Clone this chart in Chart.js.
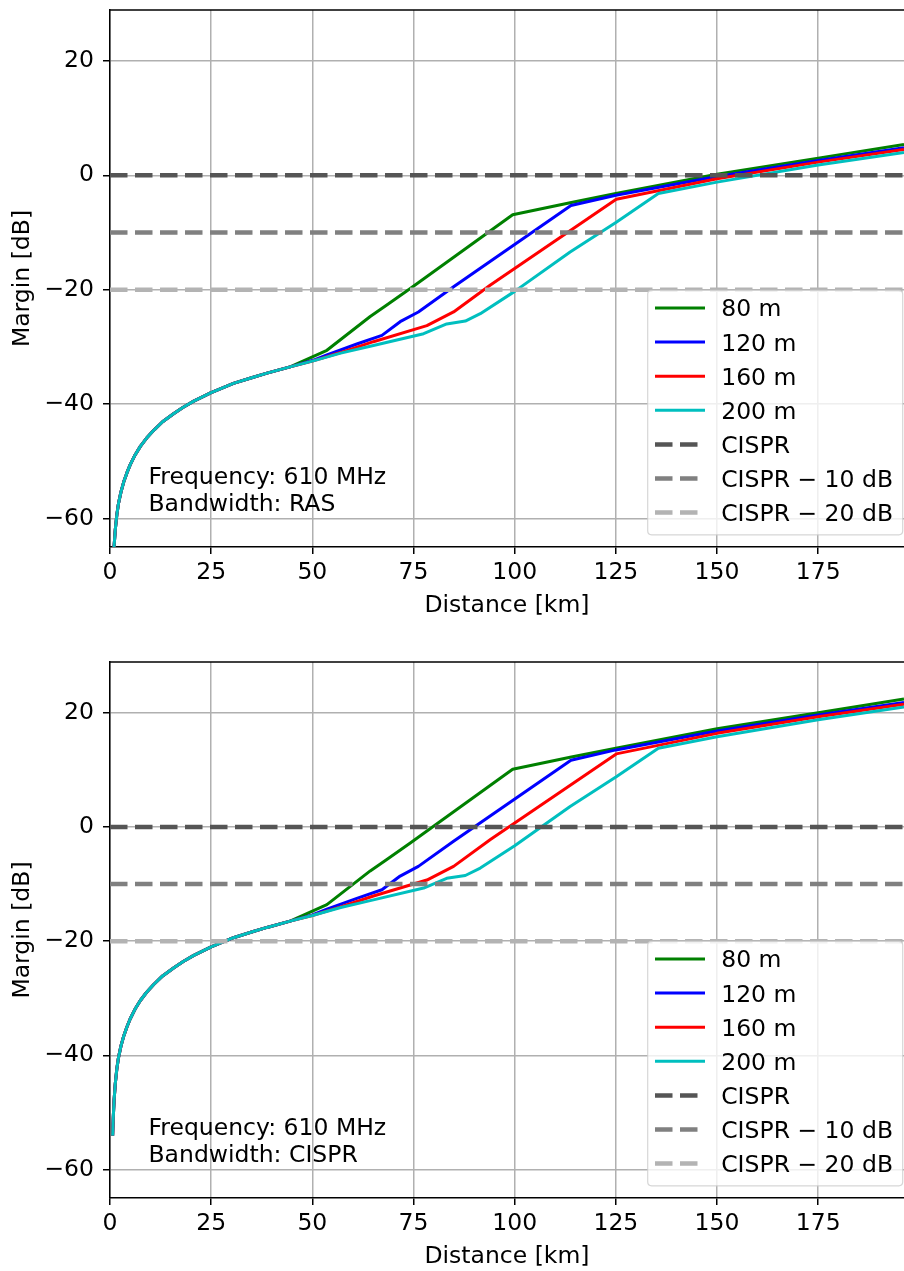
<!DOCTYPE html>
<html><head><meta charset="utf-8">
<script src="https://cdn.jsdelivr.net/npm/chart.js@4"></script>
<style>
html,body{margin:0;padding:0;background:#fff;width:904px;height:1271px;overflow:hidden}
canvas{position:absolute;left:0}
#c1{top:0}
#c2{top:652px}
</style></head><body>
<canvas id="c1" width="904" height="620" style="width:904px;height:620px"></canvas>
<canvas id="c2" width="904" height="619" style="width:904px;height:619px"></canvas>
<script>
// ---------- data ----------
const xTicks = [0, 25, 50, 75, 100, 125, 150, 175];
const yTicks = [-60, -40, -20, 0, 20];
const xRange = [0, 196.2];
const yRange = [-65, 28.9];

const seriesLabels = ['80 m', '120 m', '160 m', '200 m'];
const seriesColors = ['#008000', '#0000ff', '#ff0000', '#00bfbf'];

const limitLevels = [0, -10, -20];
const limitLabels = ['CISPR', 'CISPR \u2212 10 dB', 'CISPR \u2212 20 dB'];
const limitColors = ['#555555', '#808080', '#b3b3b3'];

// shared near-field part (all heights coincide)
const distCommon  = [0.65, 0.8, 1.0, 1.3, 1.7, 2.1, 2.7, 3.4, 4.2, 5.0, 6.2, 7.5, 9.0, 10.8, 13, 15.7, 18, 20.7, 25, 30.5, 35, 38.8, 44.5];
const rasCommon   = [-71.1, -68.0, -65.0, -62.0, -59.3, -57.4, -55.4, -53.6, -52.0, -50.6, -48.9, -47.4, -46.0, -44.6, -43.1, -41.7, -40.6, -39.5, -38.0, -36.4, -35.4, -34.6, -33.5];
const cisprCommon = [-54.1, -51.0, -48.0, -45.0, -42.3, -40.4, -38.4, -36.6, -35.0, -33.6, -31.9, -30.4, -29.0, -27.6, -26.1, -24.7, -23.6, -22.5, -21.0, -19.4, -18.4, -17.6, -16.5];

// 80 m
const dist80  = [53.6, 64.3, 68.4, 74.2, 99.5, 113.7, 125, 150, 175, 196.2];
const ras80   = [-30.6, -24.7, -22.7, -19.8, -6.9, -4.8, -3.2, 0.2, 3.0, 5.4];
const cispr80 = [-13.6, -7.7, -5.7, -2.8, 10.1, 12.2, 13.8, 17.2, 20.0, 22.4];
// 120 m
const dist120  = [50, 53.6, 61, 67.2, 71.7, 76.2, 84.9, 113.9, 125, 150, 175, 196.2];
const ras120   = [-32.4, -31.4, -29.5, -28.0, -25.6, -23.9, -19.5, -5.3, -3.5, -0.2, 2.6, 4.8];
const cispr120 = [-15.4, -14.4, -12.5, -11.0, -8.6, -6.9, -2.5, 11.7, 13.5, 16.8, 19.6, 21.8];
// 160 m
const dist160  = [50, 57, 65.1, 78.3, 84.9, 94, 125.1, 150, 175, 196.2];
const ras160   = [-32.5, -31.0, -29.1, -26.3, -23.9, -19.2, -4.2, -0.6, 2.3, 4.5];
const cispr160 = [-15.5, -14.0, -12.1, -9.3, -6.9, -2.2, 12.8, 16.4, 19.3, 21.5];
// 200 m
const dist200  = [50, 57, 64.3, 77.5, 83.2, 87.8, 91.5, 100, 113.7, 125.1, 135.5, 150, 175, 196.2];
const ras200   = [-32.5, -31.1, -29.9, -27.7, -26.0, -25.5, -24.2, -20.3, -13.4, -8.2, -3.2, -1.2, 1.8, 4.0];
const cispr200 = [-15.5, -14.1, -12.9, -10.7, -9.0, -8.5, -7.2, -3.3, 3.6, 8.8, 13.8, 15.8, 18.8, 21.0];

const panels = [
  {canvas: 'c1', bw: 'RAS',   common: rasCommon,   tails: [[dist80, ras80], [dist120, ras120], [dist160, ras160], [dist200, ras200]]},
  {canvas: 'c2', bw: 'CISPR', common: cisprCommon, tails: [[dist80, cispr80], [dist120, cispr120], [dist160, cispr160], [dist200, cispr200]]}
];

// ---------- drawing ----------
const FONT = 'DejaVu Sans';
const FS = 23.5;
Chart.defaults.font.family = FONT;
Chart.defaults.font.size = FS;
Chart.defaults.color = '#000';

function pts(xs, ys) { return xs.map((x, i) => ({x: x, y: ys[i]})); }
const fmt = v => (v < 0 ? '\u2212' + Math.abs(v) : String(v));

const DASH = [17.5, 7.5];

const decorPlugin = {
  id: 'decor',
  afterDraw(chart) {
    const {ctx, chartArea: a} = chart;
    const o = chart.options.plugins.decor;
    ctx.save();
    // top spine
    ctx.strokeStyle = '#000'; ctx.lineWidth = 1.5;
    ctx.beginPath(); ctx.moveTo(a.left - 0.75, a.top); ctx.lineTo(a.right, a.top); ctx.stroke();
    // annotation text
    ctx.font = FS + 'px "' + FONT + '"';
    ctx.fillStyle = '#000'; ctx.textBaseline = 'alphabetic'; ctx.textAlign = 'left';
    ctx.fillText('Frequency: 610 MHz', a.left + 38.5, a.bottom - 63);
    ctx.fillText('Bandwidth: ' + o.bw, a.left + 38.5, a.bottom - 36.3);
    // legend
    const boxW = 255, boxH = 244.5;
    const x0 = a.right - 1.3 - boxW, y0 = a.bottom - 12.2 - boxH;
    const r = 4;
    ctx.beginPath();
    ctx.moveTo(x0 + r, y0);
    ctx.lineTo(x0 + boxW - r, y0); ctx.quadraticCurveTo(x0 + boxW, y0, x0 + boxW, y0 + r);
    ctx.lineTo(x0 + boxW, y0 + boxH - r); ctx.quadraticCurveTo(x0 + boxW, y0 + boxH, x0 + boxW - r, y0 + boxH);
    ctx.lineTo(x0 + r, y0 + boxH); ctx.quadraticCurveTo(x0, y0 + boxH, x0, y0 + boxH - r);
    ctx.lineTo(x0, y0 + r); ctx.quadraticCurveTo(x0, y0, x0 + r, y0);
    ctx.closePath();
    ctx.fillStyle = 'rgba(255,255,255,0.8)'; ctx.fill();
    ctx.strokeStyle = 'rgba(204,204,204,0.8)'; ctx.lineWidth = 1.2; ctx.stroke();
    chart.data.datasets.forEach((ds, i) => {
      const cy = y0 + 17.7 + i * 34.1;
      ctx.beginPath();
      ctx.strokeStyle = ds.borderColor; ctx.lineWidth = ds.borderWidth;
      ctx.setLineDash(ds.borderDash || []);
      ctx.lineCap = 'butt';
      ctx.moveTo(x0 + 7.3, cy); ctx.lineTo(x0 + 57.3, cy); ctx.stroke();
      ctx.setLineDash([]);
      ctx.fillStyle = '#000';
      ctx.fillText(ds.label, x0 + 73.5, cy + 8.4);
    });
    ctx.restore();
  }
};

panels.forEach(p => {
  const datasets = [];
  p.tails.forEach((t, i) => {
    datasets.push({
      label: seriesLabels[i],
      data: pts(distCommon.concat(t[0]), p.common.concat(t[1])),
      borderColor: seriesColors[i], backgroundColor: seriesColors[i],
      borderWidth: 3, pointRadius: 0, tension: 0, fill: false,
      borderJoinStyle: 'round', order: 7 - i
    });
  });
  limitLevels.forEach((lv, j) => {
    datasets.push({
      label: limitLabels[j],
      data: pts(xRange, [lv, lv]),
      borderColor: limitColors[j], backgroundColor: limitColors[j],
      borderWidth: 4.5, borderDash: DASH, pointRadius: 0, fill: false,
      order: 3 - j
    });
  });
  new Chart(document.getElementById(p.canvas), {
    type: 'line',
    data: {datasets: datasets},
    plugins: [decorPlugin],
    options: {
      responsive: false, animation: false, devicePixelRatio: 1,
      layout: {padding: {top: 10, right: 0, left: 0, bottom: 0}},
      plugins: {legend: {display: false}, tooltip: {enabled: false}, decor: {bw: p.bw}},
      scales: {
        x: {
          type: 'linear', min: xRange[0], max: xRange[1],
          afterBuildTicks: s => { s.ticks = xTicks.map(v => ({value: v})); },
          afterFit: s => { s.height = 73; s.paddingLeft = 0; s.paddingRight = 0; },
          ticks: {autoSkip: false, maxRotation: 0, padding: 5, callback: v => fmt(v)},
          grid: {color: '#b0b0b0', lineWidth: 1.5, tickLength: 7, tickColor: '#000', tickWidth: 1.5},
          border: {color: '#000', width: 1.5},
          title: {display: true, text: 'Distance [km]', padding: {top: 0, bottom: 0}}
        },
        y: {
          type: 'linear', min: yRange[0], max: yRange[1],
          afterBuildTicks: s => { s.ticks = yTicks.map(v => ({value: v})); },
          afterFit: s => { s.width = 110; s.paddingTop = 0; s.paddingBottom = 0; },
          ticks: {padding: 9, callback: v => fmt(v)},
          grid: {color: '#b0b0b0', lineWidth: 1.5, tickLength: 7, tickColor: '#000', tickWidth: 1.5},
          border: {color: '#000', width: 1.5},
          title: {display: true, text: 'Margin [dB]', padding: {top: 9, bottom: 0}}
        }
      }
    }
  });
});
</script></body></html>
